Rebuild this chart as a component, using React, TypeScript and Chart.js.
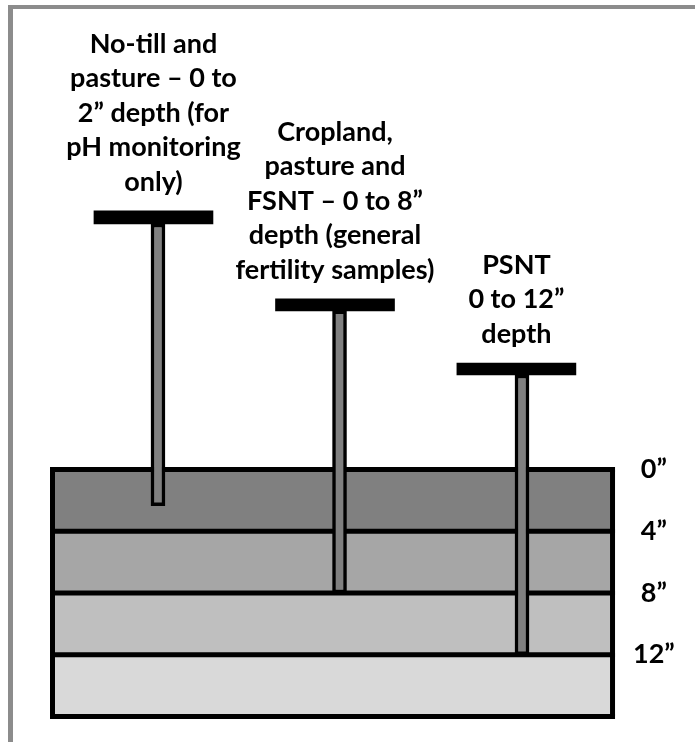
import React, { useEffect, useRef } from "react";
import { Chart, registerables } from "chart.js";

Chart.register(...registerables);

// ---- Data ----
const soilLayerTops = [0, 4, 8, 12];
const soilLayerBottoms = [4, 8, 12, 16];
const soilLayerColors = ["#808080", "#a6a6a6", "#bfbfbf", "#d9d9d9"];
const depthTicks = [0, 4, 8, 12];
const boxWidth = 36;

const probeLabels = [
  ["No-till and", "pasture – 0 to", "2” depth (for", "pH monitoring", "only)"],
  ["Cropland,", "pasture and", "FSNT – 0 to 8”", "depth (general", "fertility samples)"],
  ["PSNT", "0 to 12”", "depth"],
];
const handleX = [6.49, 18.16, 29.82];
const handleTop = [-16.75, -11.05, -6.9];
const handleBottom = [-15.9, -10.27, -6.12];
const rodX = [6.78, 18.45, 30.18];
const rodDepth = [2.35, 8, 12];

const FONT = "Lato";

const probeLabelPlugin = {
  id: "probeLabels",
  afterDatasetsDraw(chart: any) {
    const { ctx, scales } = chart;
    const xs = scales.x;
    const ys = scales.y;
    ctx.save();
    ctx.font = `bold 27px ${FONT}`;
    ctx.fillStyle = "#000";
    ctx.textAlign = "center";
    ctx.textBaseline = "alphabetic";
    probeLabels.forEach((lines, i) => {
      const cx = xs.getPixelForValue(handleX[i]);
      const top = ys.getPixelForValue(handleTop[i]);
      lines.forEach((line, j) => {
        ctx.fillText(line, cx, top - 20 - (lines.length - 1 - j) * 34.5);
      });
    });
    ctx.restore();
  },
};

export default function App() {
  const canvasRef = useRef<HTMLCanvasElement | null>(null);

  useEffect(() => {
    if (!canvasRef.current) return;
    const boundaryDepths = [soilLayerTops[0], ...soilLayerBottoms];
    const lineBase = {
      type: "line" as const,
      pointRadius: 0,
      tension: 0,
      clip: false as any,
    };
    const datasets: any[] = [];
    // soil layer fills
    soilLayerTops.forEach((top, i) => {
      datasets.push({
        ...lineBase,
        data: [
          { x: 0, y: top },
          { x: boxWidth, y: top },
        ],
        borderWidth: 0,
        backgroundColor: soilLayerColors[i],
        fill: { value: soilLayerBottoms[i] },
        order: 100,
      });
    });
    // horizontal boundary lines
    boundaryDepths.forEach((d) => {
      datasets.push({
        ...lineBase,
        data: [
          { x: 0, y: d },
          { x: boxWidth, y: d },
        ],
        borderColor: "#000",
        borderWidth: 5,
        borderCapStyle: "square",
        fill: false,
        order: 50,
      });
    });
    // vertical sides
    [0, boxWidth].forEach((sx) => {
      datasets.push({
        ...lineBase,
        data: [
          { x: sx, y: boundaryDepths[0] },
          { x: sx, y: boundaryDepths[boundaryDepths.length - 1] },
        ],
        borderColor: "#000",
        borderWidth: 5,
        borderCapStyle: "butt",
        fill: false,
        order: 50,
      });
    });
    // probe rods
    datasets.push({
      type: "bar",
      data: rodX.map((x, i) => ({ x, y: [handleBottom[i], rodDepth[i]] })),
      backgroundColor: "#808080",
      borderColor: "#000",
      borderWidth: 3.5,
      borderSkipped: false,
      barThickness: 14,
      grouped: false,
      clip: false,
      order: 20,
    });
    // probe handles
    datasets.push({
      type: "bar",
      data: handleX.map((x, i) => ({ x, y: [handleTop[i], handleBottom[i]] })),
      backgroundColor: "#000",
      borderWidth: 0,
      barThickness: 119,
      grouped: false,
      clip: false,
      order: 10,
    });

    const chart = new Chart(canvasRef.current, {
      type: "bar",
      data: { datasets },
      options: {
        animation: false,
        responsive: false,
        events: [],
        layout: { padding: 0 },
        plugins: {
          legend: { display: false },
          tooltip: { enabled: false },
          filler: { drawTime: "beforeDatasetDraw" },
        },
        scales: {
          x: {
            type: "linear",
            display: false,
            offset: false,
            min: -3.375,
            max: 36.03,
          },
          y: {
            type: "linear",
            position: "right",
            reverse: true,
            offset: false,
            min: -30.41,
            max: 17.65,
            grid: { display: false, drawTicks: false },
            border: { display: false },
            ticks: {
              font: { family: FONT, weight: "bold", size: 27 },
              color: "#000",
              padding: 20,
              crossAlign: "center",
              autoSkip: false,
              callback: (v: any) => `${v}”`,
            },
            afterBuildTicks: (axis: any) => {
              axis.ticks = depthTicks.map((v) => ({ value: v }));
            },
            afterFit: (axis: any) => {
              axis.width = 82;
              axis.paddingTop = 0;
              axis.paddingBottom = 0;
            },
          },
        },
      } as any,
      plugins: [probeLabelPlugin],
    });
    return () => chart.destroy();
  }, []);

  return (
    <div
      style={{
        position: "absolute",
        left: 0,
        top: 0,
        width: 695,
        height: 742,
        overflow: "hidden",
        background: "#fff",
      }}
    >
      <div
        style={{
          position: "absolute",
          left: 8,
          top: 5,
          width: 687,
          height: 737,
          boxSizing: "border-box",
          borderTop: "4px solid #8c8c8c",
          borderLeft: "5px solid #8c8c8c",
        }}
      />
      <canvas
        ref={canvasRef}
        width={695}
        height={742}
        style={{ position: "absolute", left: 0, top: 0, display: "block" }}
      />
    </div>
  );
}
